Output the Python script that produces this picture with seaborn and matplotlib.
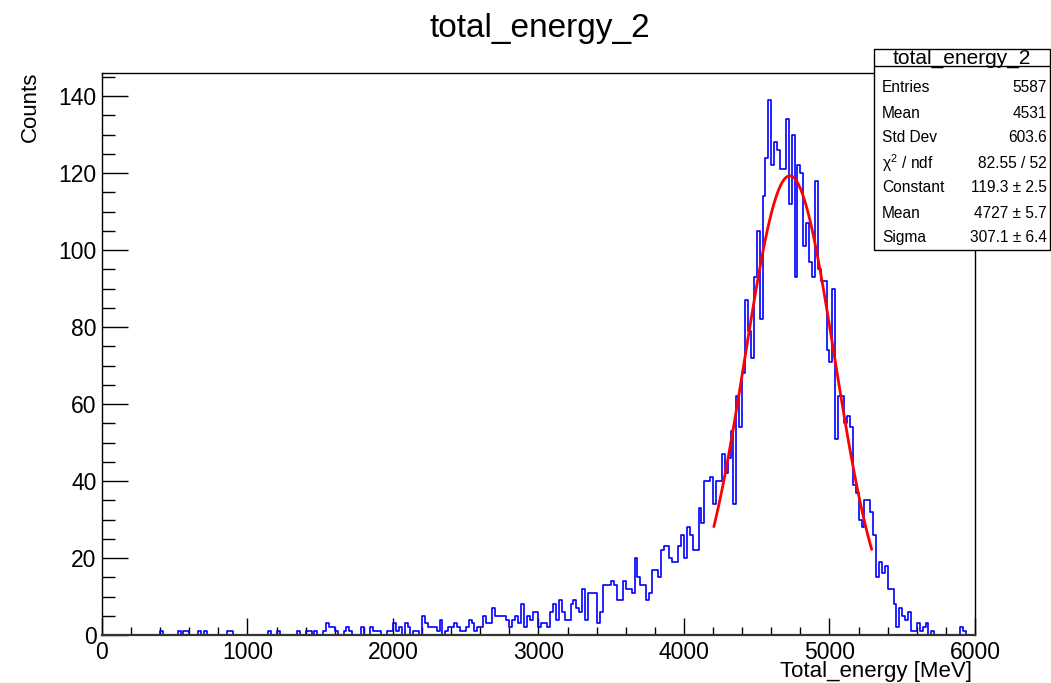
import numpy as np
import pandas as pd
import seaborn as sns
import matplotlib.pyplot as plt
from matplotlib.ticker import MultipleLocator
from matplotlib.patches import Rectangle

# histogram: 300 bins of 20 MeV between 0 and 6000
n_bins, e_min, e_max = 300, 0, 6000
counts = np.zeros(n_bins)

# sparse low-energy tail (bin index -> entries)
low_tail = {20: 1, 26: 1, 28: 1, 29: 1, 33: 1, 35: 1, 43: 1, 44: 1,
            57: 1, 60: 1, 67: 1, 70: 1, 71: 1, 73: 1, 76: 1, 77: 3, 78: 2,
            79: 2, 80: 1, 83: 1, 84: 2, 85: 1, 89: 2, 92: 2, 93: 1, 94: 1,
            95: 1, 98: 1, 99: 1}
for k, v in low_tail.items():
    counts[k] = v

counts_2000_3000 = [3, 1, 2, 0, 3, 2, 0, 1, 1, 0,          # bins 100-109
                    5, 3, 2, 2, 2, 1, 4, 0, 1, 2,          # 110-119
                    2, 3, 2, 1, 1, 2, 4, 3, 1, 2,          # 120-129
                    2, 5, 3, 3, 7, 5, 5, 5, 5, 4,          # 130-139
                    2, 4, 5, 3, 8, 2, 5, 4, 6]             # 140-148
counts_3000_4000 = [6, 2, 3, 3, 2, 6, 8, 4, 9, 6,          # 149-158
                    4, 4, 8, 9, 7, 6, 12, 4, 11, 11,       # 159-168
                    11, 3, 6, 13, 13, 13, 14, 13, 9, 9,    # 169-178
                    14, 12, 12, 11, 20, 15, 13, 13, 9, 11, # 179-188
                    17, 17, 15, 22, 23, 23, 20, 19, 19, 23]  # 189-198
counts_peak = [26, 20, 28, 26, 22, 22, 33, 29, 40, 40,     # 199-208
               41, 34, 40, 40, 47, 42, 46, 53, 34, 62,     # 209-218
               54, 68, 87, 79, 72, 93, 105, 82, 114, 124,  # 219-228
               139, 122, 128, 126, 121, 121, 134, 112, 130, 93,  # 229-238
               122, 120, 101, 107, 97, 93, 118, 95, 92, 92,      # 239-248
               74, 71, 90]                                 # 249-251
counts_high = [51, 62, 62, 55, 57, 54, 39, 37, 30, 28,     # 252-261
               35, 35, 32, 26, 15, 19, 16, 18, 12, 12,     # 262-271
               8, 2, 7, 5, 4, 6, 1, 1, 3, 1,               # 272-281
               2, 3, 0, 1, 0, 0, 0, 0, 0, 0,               # 282-291
               0, 0, 0, 2, 1, 0, 0, 0]                     # 292-299
counts[100:149] = counts_2000_3000
counts[149:199] = counts_3000_4000
counts[199:252] = counts_peak
counts[252:300] = counts_high

# gaussian fit parameters (from the stats box)
fit_const, fit_mean, fit_sigma = 119.3, 4727.0, 307.1
fit_lo, fit_hi = 4205, 5290

stats_rows = [("Entries", "5587"), ("Mean", "4531"), ("Std Dev", "603.6"),
              (r"$\chi^{2}$ / ndf", "82.55 / 52"), ("Constant", "119.3 ± 2.5"),
              ("Mean", "4727 ± 5.7"), ("Sigma", "307.1 ± 6.4")]

sns.set_style("white")
plt.rcParams['font.family'] = ['Liberation Sans', 'DejaVu Sans']
plt.rcParams['mathtext.fontset'] = 'custom'
plt.rcParams['mathtext.rm'] = 'Liberation Sans'
plt.rcParams['mathtext.it'] = 'Liberation Sans'
plt.rcParams['text.color'] = 'black'
plt.rcParams['xtick.color'] = 'black'
plt.rcParams['ytick.color'] = 'black'

W, H = 1051, 683
fig = plt.figure(figsize=(W / 100, H / 100), dpi=100)
ax = fig.add_axes([102 / W, 1 - 635 / H, (975 - 102) / W, (635 - 73) / H])

bin_width = (e_max - e_min) / n_bins
df = pd.DataFrame({"energy": e_min + bin_width * (np.arange(n_bins) + 0.5),
                   "n": counts})
sns.histplot(data=df, x="energy", weights="n", bins=n_bins, binrange=(e_min, e_max),
             element="step", fill=False, color="#0000ff", linewidth=1.2, ax=ax)

fx = np.linspace(fit_lo, fit_hi, 100)
fy = fit_const * np.exp(-0.5 * ((fx - fit_mean) / fit_sigma) ** 2)
sns.lineplot(x=fx, y=fy, color="#ff0000", linewidth=2, ax=ax)

ax.set_xlim(0, 6000)
ax.set_ylim(0, 146)
ax.set_xlabel("")
ax.set_ylabel("")
ax.xaxis.set_major_locator(MultipleLocator(1000))
ax.xaxis.set_minor_locator(MultipleLocator(200))
ax.yaxis.set_major_locator(MultipleLocator(20))
ax.yaxis.set_minor_locator(MultipleLocator(5))
ax.tick_params(axis="x", which="major", direction="in", length=12, width=1,
               labelsize=16.5, pad=4, top=False, bottom=True)
ax.tick_params(axis="x", which="minor", direction="in", length=6, width=1,
               top=False, bottom=True)
ax.tick_params(axis="y", which="major", direction="in", length=18.5, width=1,
               labelsize=16.5, pad=4, right=False, left=True)
ax.tick_params(axis="y", which="minor", direction="in", length=9.3, width=1,
               right=False, left=True)
for s in ax.spines.values():
    s.set_color("black")
    s.set_linewidth(1)
    s.set_zorder(10)
ax.spines["bottom"].set_linewidth(1.6)
ax.spines["bottom"].set_color("#333333")

fig.text(539.5 / W, 1 - 28 / H, "total_energy_2", ha="center", va="center", fontsize=24)
fig.text(972 / W, 1 - 672 / H, "Total_energy [MeV]", ha="right", va="center", fontsize=16)
fig.text(30 / W, 1 - 72 / H, "Counts", ha="center", va="top", rotation=90, fontsize=16)

# stats box
bx0, bx1, by0, by1 = 874, 1049.5, 49, 250
fig.patches.append(Rectangle((bx0 / W, 1 - by1 / H), (bx1 - bx0) / W, (by1 - by0) / H,
                             transform=fig.transFigure, facecolor="white",
                             edgecolor="black", linewidth=1, zorder=5))
fig.add_artist(plt.Line2D([bx0 / W, bx1 / W], [1 - 66 / H, 1 - 66 / H],
                          transform=fig.transFigure, color="black", linewidth=1, zorder=6))
fig.text((bx0 + bx1) / 2 / W, 1 - 58 / H, "total_energy_2", ha="center", va="center",
         fontsize=15, zorder=7)
for i, (name, val) in enumerate(stats_rows):
    yy = 1 - (88 + 25 * i) / H
    fig.text(882 / W, yy, name, ha="left", va="center", fontsize=11.2, zorder=7)
    fig.text(1047 / W, yy, val, ha="right", va="center", fontsize=11.2, zorder=7)

fig.savefig("out.png", dpi=100)
